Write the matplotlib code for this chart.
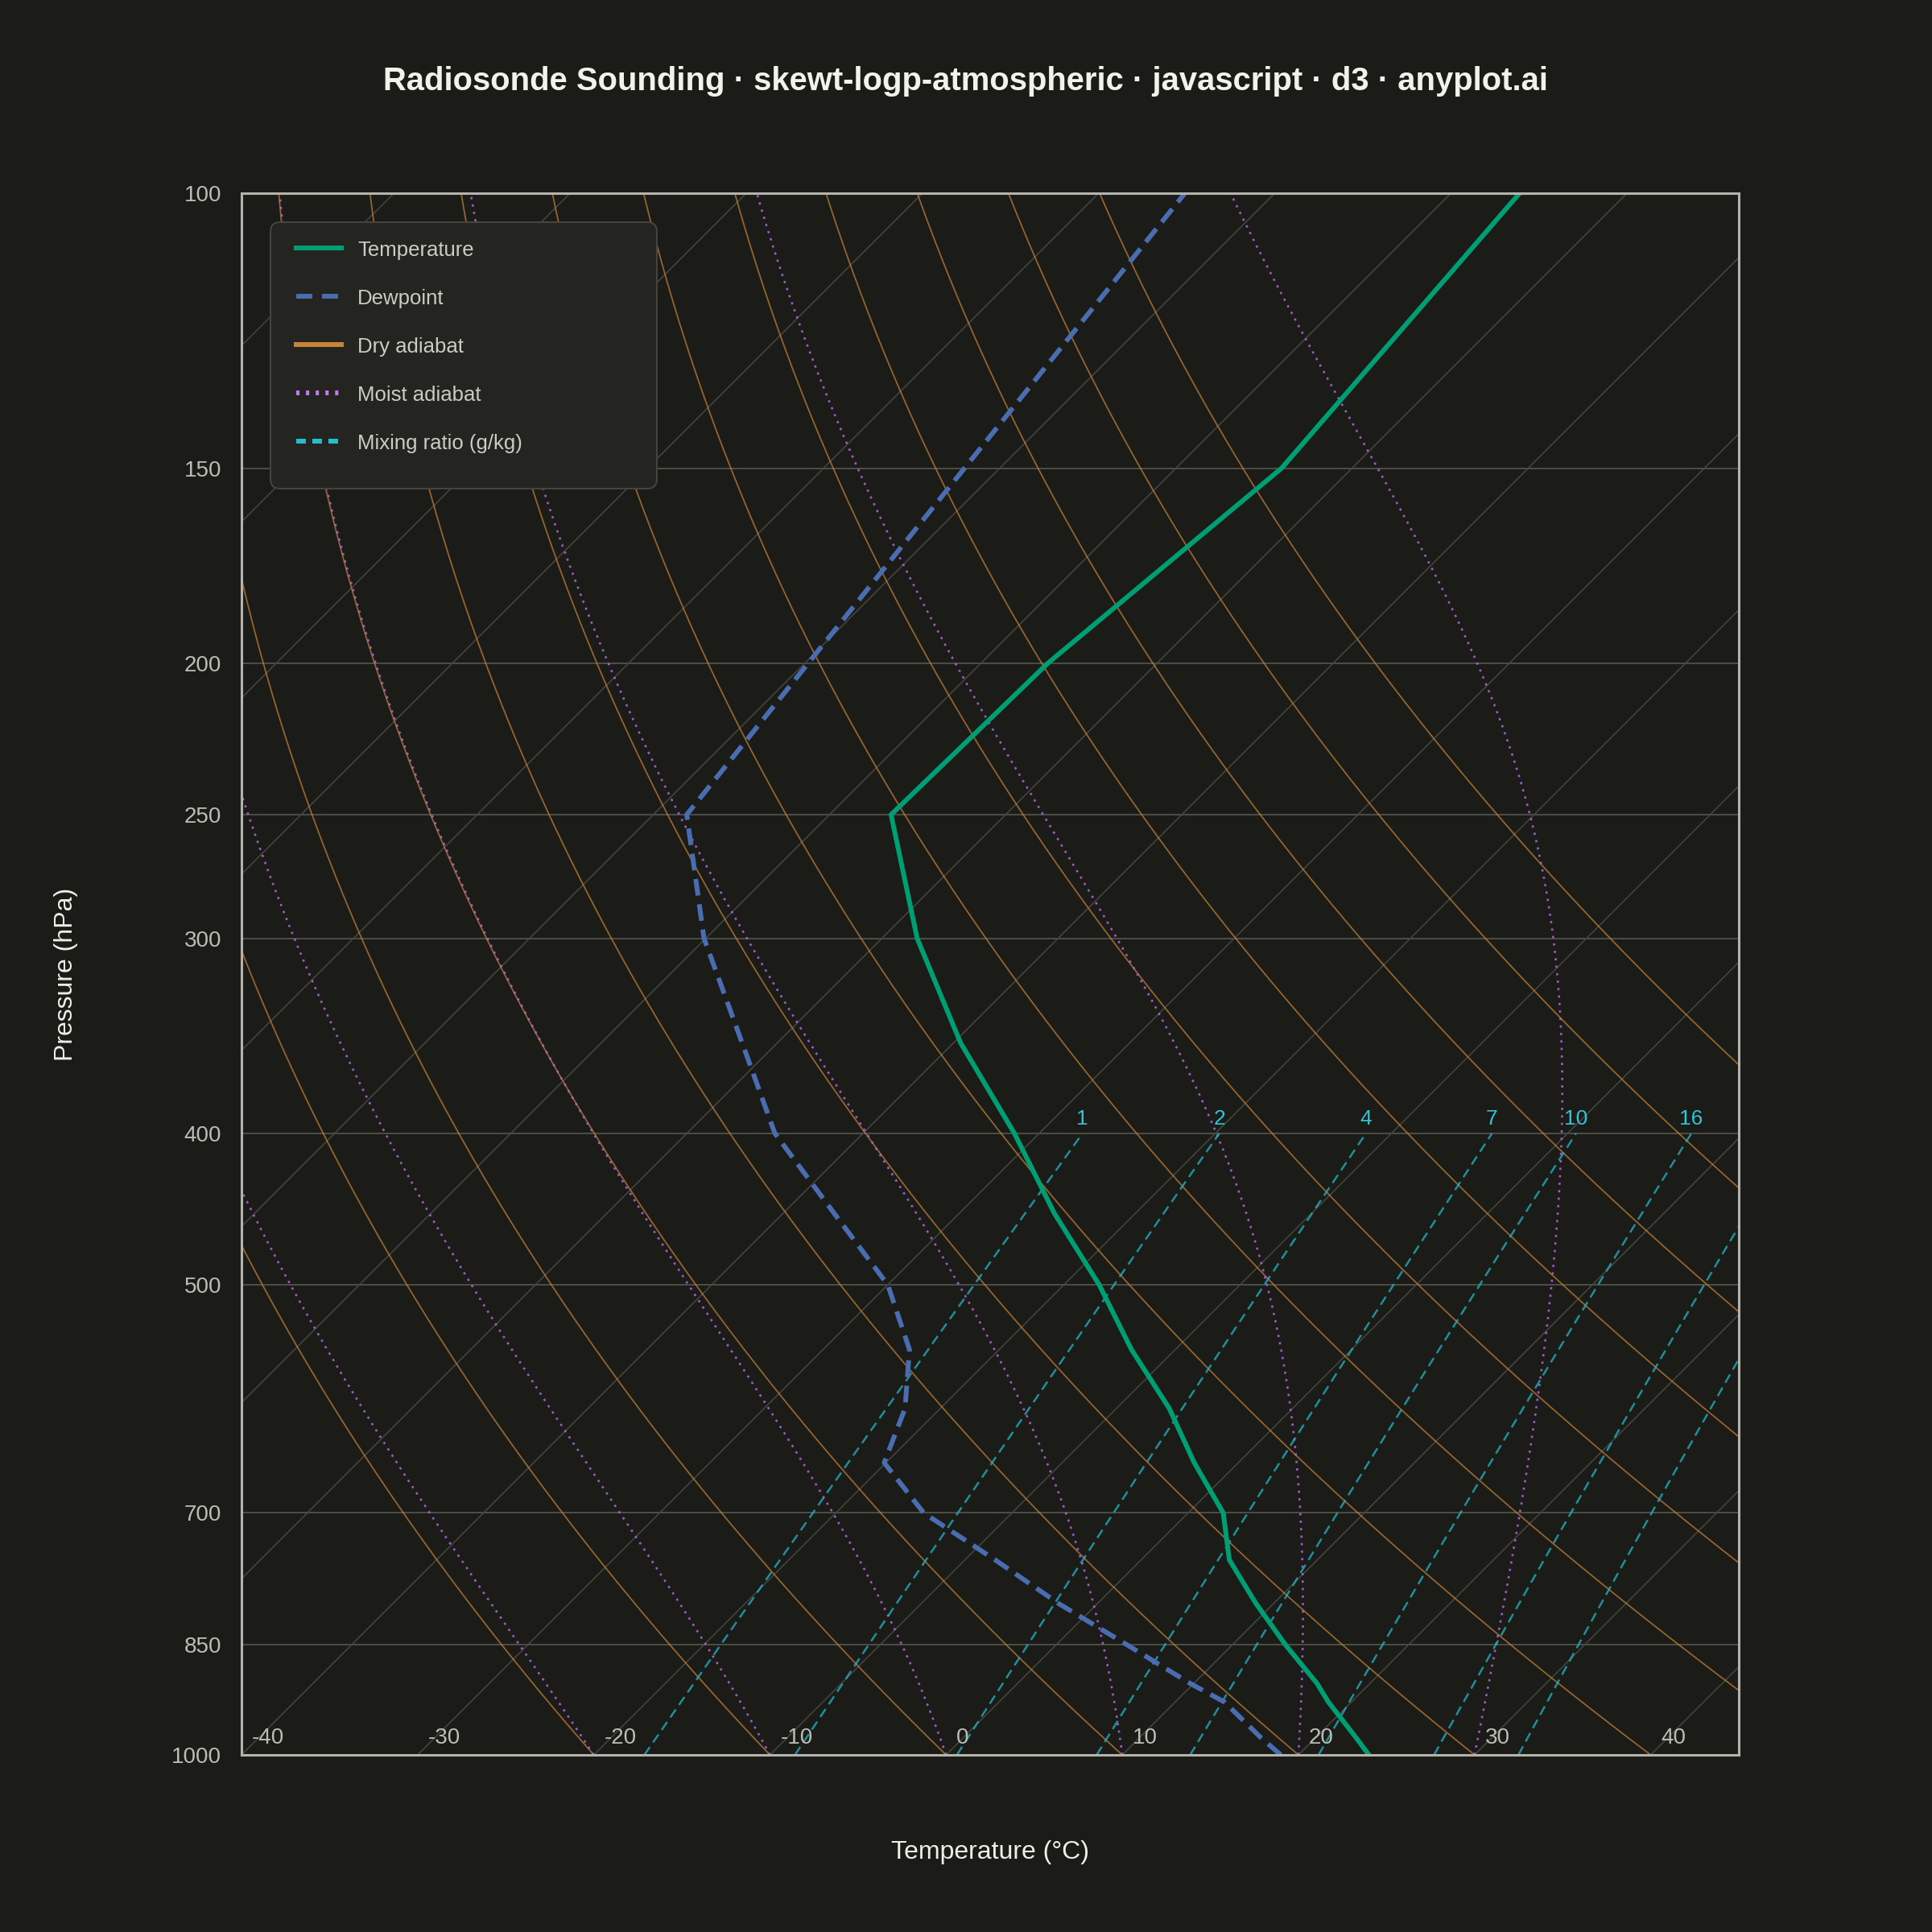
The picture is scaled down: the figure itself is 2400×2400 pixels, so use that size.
import numpy as np
import matplotlib.pyplot as plt
from matplotlib.lines import Line2D
from matplotlib.patches import FancyBboxPatch
from matplotlib.ticker import FixedLocator, NullLocator, NullFormatter

plt.rcParams['font.family'] = ['Liberation Sans', 'DejaVu Sans']
plt.rcParams['lines.scale_dashes'] = False

# Sounding
pressure = [1000, 975, 925, 900, 850, 800, 750, 700, 650, 600, 550, 500,
            450, 400, 350, 300, 250, 200, 150, 100]
temperature = [24.0, 22.3, 18.7, 17.0, 13.0, 9.0, 5.0, 2.0, -2.5, -7.0, -12.5, -18.0,
               -24.6, -31.4, -39.6, -48.0, -56.5, -56.2, -54.0, -56.1]
dewpoint = [19.0, 16.9, 12.8, 9.8, 4.0, -2.2, -8.3, -15.0, -20.1, -22.0, -25.1, -30.0,
            -37.1, -45.0, -52.0, -60.1, -68.1, -69.8, -72.0, -75.1]

# Background reference lines
isobars = [100, 150, 200, 250, 300, 400, 500, 700, 850, 1000]
isotherms = [-120, -110, -100, -90, -80, -70, -60, -50, -40, -30, -20, -10, 0, 10, 20, 30, 40]
dry_adiabats = [-20, -10, 0, 10, 20, 30, 40, 50, 60, 70, 80, 90, 100]
moist_adiabats = [-20, -10, 0, 10, 20, 30]
mixing_ratios = [1, 2, 4, 7, 10, 16, 24, 32]
temp_ticks = [-40, -30, -20, -10, 0, 10, 20, 30, 40]

BG = '#1b1b18'
T_MIN, T_MAX = -40, 45
SKEW = (T_MAX - T_MIN) * 1940 / 1860   # degC per decade of pressure -> 45 deg isotherms
RD, CP, LV, EPS = 287.0, 1004.0, 2.501e6, 0.622


def skew_x(t, p):
    return np.asarray(t, dtype=float) + SKEW * np.log10(1000.0 / np.asarray(p, dtype=float))


def sat_vapor(tc):
    return 6.112 * np.exp(17.67 * tc / (tc + 243.5))


def moist_lapse(tk, p):
    es = sat_vapor(tk - 273.15)
    rs = EPS * es / (p - es)
    return (RD * tk + LV * rs) / (CP + LV * LV * rs * EPS / (RD * tk * tk))


def moist_adiabat(t0, plev):
    lnp = np.log(plev)
    tk = t0 + 273.15
    out = [tk]
    for i in range(len(plev) - 1):
        h = lnp[i + 1] - lnp[i]
        pm = np.exp(0.5 * (lnp[i] + lnp[i + 1]))
        k1 = moist_lapse(tk, plev[i])
        k2 = moist_lapse(tk + 0.5 * h * k1, pm)
        k3 = moist_lapse(tk + 0.5 * h * k2, pm)
        k4 = moist_lapse(tk + h * k3, plev[i + 1])
        tk = tk + h * (k1 + 2 * k2 + 2 * k3 + k4) / 6
        out.append(tk)
    return np.array(out) - 273.15


def mixing_dewpoint(w, p):
    e = w * p / (622.0 + w)
    a = np.log(e / 6.112)
    return 243.5 * a / (17.67 - a)


fig = plt.figure(figsize=(24, 24), dpi=100, facecolor=BG)
ax = fig.add_axes([300 / 2400, 220 / 2400, 1860 / 2400, 1940 / 2400])
ax.set_facecolor(BG)

p_full = np.geomspace(1000, 100, 300)

# isobars and isotherms
for p in isobars:
    ax.plot([T_MIN, T_MAX], [p, p], color='#4e4e49', lw=1.4, zorder=1)
for t in isotherms:
    ax.plot(skew_x([t, t], [1000, 100]), [1000, 100], color='#474742', lw=1.1, zorder=1)

# dry adiabats
for th in dry_adiabats:
    tt = (th + 273.15) * (p_full / 1000.0) ** (RD / CP) - 273.15
    ax.plot(skew_x(tt, p_full), p_full, color='#c8843a', alpha=0.7, lw=1.3, zorder=2)

# moist adiabats
for t0 in moist_adiabats:
    tt = moist_adiabat(t0, p_full)
    ax.plot(skew_x(tt, p_full), p_full, color='#b565e8', alpha=0.85, lw=1.9,
            dashes=(2.0, 4.7), zorder=3)

# mixing ratio lines
p_mix = np.geomspace(1000, 400, 60)
for w in mixing_ratios:
    tt = mixing_dewpoint(w, p_mix)
    ax.plot(skew_x(tt, p_mix), p_mix, color='#22b5c8', alpha=0.75, lw=1.8,
            dashes=(8.6, 5.0), zorder=3)
    x_top = skew_x(tt[-1], 400)
    if x_top < T_MAX:
        ax.annotate(str(w), xy=(x_top, 400), xytext=(0, 8), textcoords='offset points',
                    ha='center', va='baseline', fontsize=19, color='#2ec4da', zorder=6)

# sounding
ax.plot(skew_x(temperature, pressure), pressure, color='#009e73', lw=4.3, zorder=5)
ax.plot(skew_x(dewpoint, pressure), pressure, color='#4a6cb0', lw=4.3,
        dashes=(15, 7.8), zorder=5)

ax.set_yscale('log')
ax.set_xlim(T_MIN, T_MAX)
ax.set_ylim(1000, 100)
ax.yaxis.set_major_locator(FixedLocator(isobars))
ax.yaxis.set_major_formatter(plt.FixedFormatter([str(p) for p in isobars]))
ax.yaxis.set_minor_locator(NullLocator())
ax.yaxis.set_minor_formatter(NullFormatter())
ax.set_xticks([])
ax.tick_params(axis='y', length=0, pad=18, labelsize=20, labelcolor='#bdbdb6')
for s in ax.spines.values():
    s.set_color('#b4b4ac')
    s.set_linewidth(2.2)
    s.set_zorder(7)

# temperature labels sit inside the frame, along the bottom
for t in temp_ticks:
    ax.annotate(str(t), xy=(t, 1000), xytext=(9.4, 10.4), textcoords='offset points',
                ha='left', va='baseline', fontsize=20, color='#bdbdb6', zorder=6)

ax.set_xlabel('Temperature (°C)', fontsize=23, color='#efefe8', va='center')
ax.xaxis.set_label_coords(0.5, (2180 - 2301) / 1940)
ax.set_ylabel('Pressure (hPa)', fontsize=23, color='#efefe8', va='center', ha='center')
ax.yaxis.set_label_coords((82 - 300) / 1860, 0.5)

fig.text(0.5, 1 - 101 / 2400,
         'Radiosonde Sounding · skewt-logp-atmospheric · javascript · d3 · anyplot.ai',
         ha='center', va='center', fontsize=28.8, fontweight='bold', color='#f2f2ea')

# legend box, drawn by hand to match the reference layout
box = FancyBboxPatch((336 / 2400, 1 - 607 / 2400), 480 / 2400, 331 / 2400,
                     boxstyle='round,pad=0,rounding_size=0.005', transform=fig.transFigure,
                     facecolor='#242421', edgecolor='#46463f', lw=1.4, zorder=20)
fig.add_artist(box)

legend_rows = [
    ('Temperature', dict(color='#009e73', lw=4.3)),
    ('Dewpoint', dict(color='#4a6cb0', lw=4.3, dashes=(14.4, 8.6))),
    ('Dry adiabat', dict(color='#c8843a', lw=4.3)),
    ('Moist adiabat', dict(color='#c677f5', lw=4.3, dashes=(2.9, 5.8))),
    ('Mixing ratio (g/kg)', dict(color='#29bccd', lw=4.3, dashes=(8.6, 5.8))),
]
row_y = [308, 368, 428, 488, 548]
for (label, style), y in zip(legend_rows, row_y):
    fy = 1 - y / 2400
    fig.add_artist(Line2D([368 / 2400, 424 / 2400], [fy, fy], transform=fig.transFigure,
                          zorder=21, **style))
    fig.text(444 / 2400, 1 - (y + 10) / 2400, label, ha='left', va='baseline',
             fontsize=18.5, color='#cccbc4', zorder=22)

fig.savefig('out.png', dpi=100, facecolor=BG)
